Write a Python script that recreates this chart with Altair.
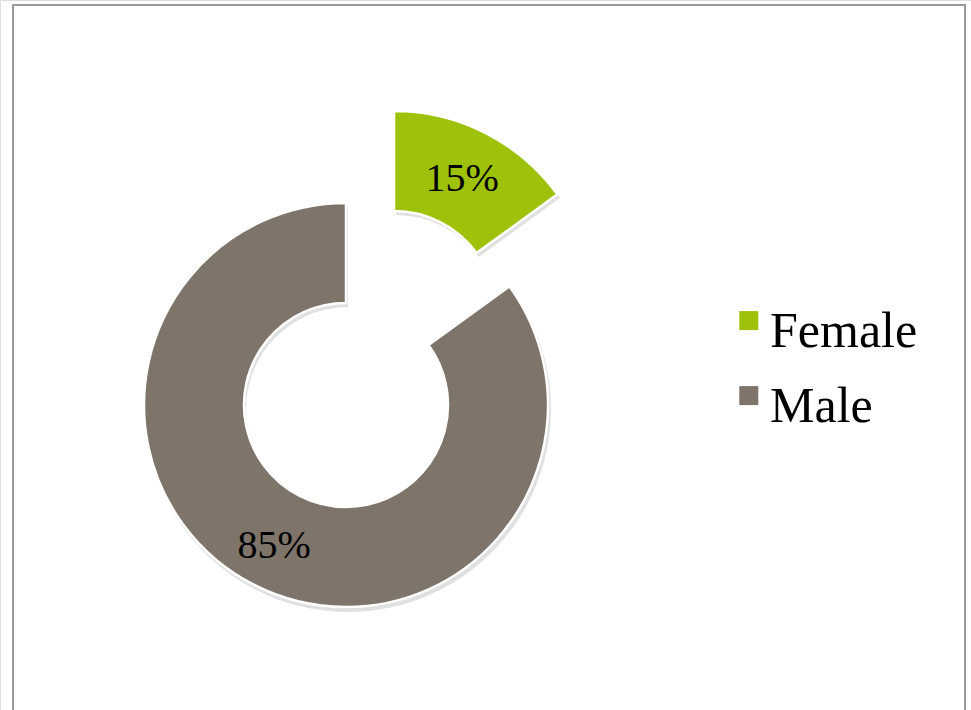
import altair as alt
import pandas as pd

genders = ["Female", "Male"]
shares = [15, 85]
labels = ["15%", "85%"]
colors = ["#9DC209", "#7E7469"]

df = pd.DataFrame({"gender": genders, "share": shares, "label": labels, "ord": [0, 1]})

W, H = 971, 710
R_OUT, R_IN = 202, 102
MALE_C = (346, 405)
FEMALE_C = (394, 313)

color = alt.Color(
    "gender:N",
    scale=alt.Scale(domain=genders, range=colors),
    legend=alt.Legend(
        title=None,
        orient="none",
        legendX=720,
        legendY=307,
        symbolType="M-0.6,-2.2H1.4V-0.2H-0.6Z",
        symbolSize=361,
        symbolStrokeWidth=0,
        labelFont="Liberation Serif",
        labelFontSize=50,
        labelColor="#000000",
        labelOffset=0,
        rowPadding=25,
        padding=0,
    ),
)

base = alt.Chart(df).encode(
    theta=alt.Theta("share:Q", stack=True),
    order=alt.Order("ord:Q"),
)


def only(name):
    return alt.condition(alt.datum.gender == name, alt.value(1), alt.value(0))


def arcs(name, c, shadow=False):
    if shadow:
        return base.mark_arc(radius=R_OUT + 1, radius2=R_IN, fill="#000000", strokeWidth=0).encode(
            x=alt.value(c[0] + 2), y=alt.value(c[1] + 4),
            opacity=alt.condition(alt.datum.gender == name, alt.value(0.12), alt.value(0)),
        )
    return base.mark_arc(radius=R_OUT, radius2=R_IN, stroke="#ffffff", strokeWidth=2.5).encode(
        x=alt.value(c[0]), y=alt.value(c[1]), color=color, opacity=only(name),
    )


def text(name, c, r):
    return base.mark_text(
        radius=r, font="Liberation Serif", fontSize=40, color="#000000",
        align="center", baseline="middle",
    ).encode(
        x=alt.value(c[0]), y=alt.value(c[1]), text="label:N", opacity=only(name),
    )


frame = alt.Chart(df).mark_rect(
    fill=None, stroke="#9a9a9a", strokeWidth=2
).encode(
    x=alt.value(13), x2=alt.value(965), y=alt.value(5), y2=alt.value(900)
)

chart = alt.layer(
    frame,
    arcs("Male", MALE_C, shadow=True),
    arcs("Female", FEMALE_C, shadow=True),
    arcs("Male", MALE_C),
    arcs("Female", FEMALE_C),
    text("Male", MALE_C, 158),
    text("Female", FEMALE_C, 150),
).properties(
    width=W, height=H, autosize=alt.AutoSizeParams(type="none"), padding=0
).configure_view(stroke=None).configure(background="#ffffff")

chart.save("out.html", embed_options={"renderer": "svg", "actions": False})
